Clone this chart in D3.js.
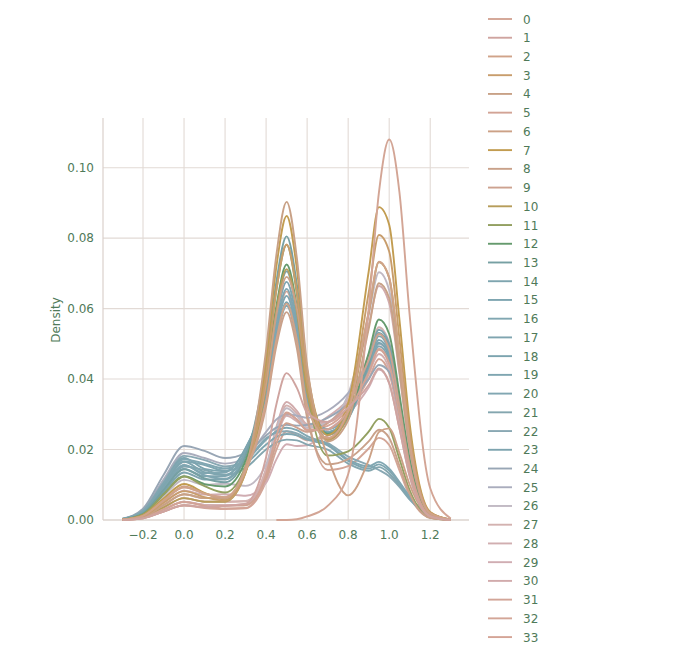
<!DOCTYPE html>
<html>
<head>
<meta charset="utf-8">
<script src="https://cdn.jsdelivr.net/npm/d3@7"></script>
<style>
  body { margin: 0; background: #fff; }
  text { font-family: "DejaVu Sans", sans-serif; fill: #4f7a59; }
</style>
</head>
<body>
<div id="grafico"></div>
<script>
// x positions where each density curve was read
var xs = [-0.3, -0.2, -0.1, 0.0, 0.1, 0.2, 0.3, 0.4, 0.45, 0.5, 0.55, 0.6, 0.7, 0.8, 0.9, 0.95, 1.0, 1.05, 1.1, 1.2, 1.3];

// hue levels
var hueLevels = ["0","1","2","3","4","5","6","7","8","9","10","11","12","13","14","15","16",
  "17","18","19","20","21","22","23","24","25","26","27","28","29","30","31","32","33"];

// density per hue level, one row per level (values at xs)
var densities = [
  [null, null, null, null, null, null, null, null, 0, 0, 0.0002, 0.001, 0.004, 0.013, 0.060, 0.093, 0.108, 0.093, 0.058, 0.009, 0.0004],
  [0, 0.0005, 0.0024, 0.0042, 0.0037, 0.0040, 0.0046, 0.0178, 0.0328, 0.0417, 0.0375, 0.0305, 0.0278, 0.0319, 0.0383, 0.0430, 0.0389, 0.0260, 0.0124, 0.0010, 0],
  [0.0001, 0.0012, 0.0055, 0.0093, 0.0075, 0.0065, 0.0141, 0.0334, 0.0511, 0.0614, 0.0512, 0.0325, 0.0233, 0.0309, 0.0591, 0.0733, 0.0688, 0.0465, 0.0223, 0.0019, 0.0001],
  [0.0001, 0.0011, 0.0049, 0.0082, 0.0065, 0.0055, 0.0136, 0.0415, 0.0652, 0.0782, 0.0648, 0.0391, 0.0230, 0.0311, 0.0645, 0.0809, 0.0762, 0.0514, 0.0248, 0.0021, 0.0001],
  [0.0001, 0.0009, 0.0042, 0.0073, 0.0062, 0.0062, 0.0148, 0.0483, 0.0752, 0.0903, 0.0743, 0.0438, 0.0223, 0.0283, 0.0542, 0.0672, 0.0630, 0.0424, 0.0205, 0.0017, 0.0001],
  [0.0001, 0.0007, 0.0030, 0.0051, 0.0040, 0.0033, 0.0034, 0.0130, 0.0239, 0.0303, 0.0285, 0.0255, 0.0258, 0.0309, 0.0419, 0.0486, 0.0444, 0.0298, 0.0143, 0.0012, 0],
  [0.0001, 0.0012, 0.0055, 0.0095, 0.0075, 0.0060, 0.0150, 0.0388, 0.0582, 0.0690, 0.0600, 0.0400, 0.0180, 0.0070, 0.0170, 0.0250, 0.0260, 0.0190, 0.0100, 0.0010, 0],
  [0.0001, 0.0014, 0.0061, 0.0102, 0.0077, 0.0058, 0.0137, 0.0456, 0.0719, 0.0863, 0.0713, 0.0427, 0.0241, 0.0331, 0.0705, 0.0888, 0.0838, 0.0568, 0.0273, 0.0023, 0.0001],
  [0.0001, 0.0009, 0.0042, 0.0073, 0.0062, 0.0062, 0.0139, 0.0323, 0.0494, 0.0590, 0.0487, 0.0290, 0.0158, 0.0173, 0.0223, 0.0256, 0.0233, 0.0154, 0.0074, 0.0006, 0],
  [0, 0.0005, 0.0024, 0.0042, 0.0037, 0.0040, 0.0042, 0.0121, 0.0216, 0.0275, 0.0262, 0.0250, 0.0275, 0.0333, 0.0454, 0.0528, 0.0483, 0.0324, 0.0155, 0.0013, 0],
  [0.0001, 0.0008, 0.0036, 0.0062, 0.0052, 0.0052, 0.0134, 0.0380, 0.0594, 0.0712, 0.0592, 0.0363, 0.0227, 0.0300, 0.0588, 0.0732, 0.0687, 0.0462, 0.0223, 0.0019, 0.0001],
  [0.0001, 0.0016, 0.0073, 0.0123, 0.0096, 0.0078, 0.0154, 0.0424, 0.0653, 0.0781, 0.0641, 0.0375, 0.0183, 0.0195, 0.0251, 0.0287, 0.0262, 0.0173, 0.0084, 0.0007, 0],
  [0.0001, 0.0016, 0.0073, 0.0124, 0.0102, 0.0095, 0.0169, 0.0403, 0.0607, 0.0725, 0.0604, 0.0373, 0.0244, 0.0295, 0.0473, 0.0569, 0.0528, 0.0356, 0.0171, 0.0014, 0.0001],
  [0.0002, 0.0019, 0.0085, 0.0144, 0.0118, 0.0107, 0.0182, 0.0449, 0.0676, 0.0805, 0.0668, 0.0406, 0.0246, 0.0290, 0.0444, 0.0530, 0.0490, 0.0330, 0.0158, 0.0013, 0.0001],
  [0.0002, 0.0022, 0.0097, 0.0165, 0.0136, 0.0128, 0.0196, 0.0389, 0.0570, 0.0676, 0.0565, 0.0356, 0.0250, 0.0297, 0.0441, 0.0522, 0.0481, 0.0324, 0.0156, 0.0013, 0.0001],
  [0.0002, 0.0020, 0.0091, 0.0155, 0.0127, 0.0117, 0.0187, 0.0375, 0.0552, 0.0656, 0.0548, 0.0344, 0.0242, 0.0287, 0.0430, 0.0511, 0.0472, 0.0318, 0.0152, 0.0013, 0],
  [0.0003, 0.0025, 0.0102, 0.0172, 0.0160, 0.0146, 0.0168, 0.0228, 0.0252, 0.0262, 0.0255, 0.0238, 0.0215, 0.0172, 0.0152, 0.0165, 0.0146, 0.0108, 0.0066, 0.0014, 0.0001],
  [0.0002, 0.0019, 0.0085, 0.0145, 0.0124, 0.0125, 0.0195, 0.0369, 0.0537, 0.0636, 0.0533, 0.0340, 0.0249, 0.0298, 0.0448, 0.0531, 0.0490, 0.0330, 0.0158, 0.0013, 0.0001],
  [0.0002, 0.0023, 0.0103, 0.0176, 0.0145, 0.0138, 0.0204, 0.0363, 0.0522, 0.0618, 0.0518, 0.0335, 0.0258, 0.0303, 0.0430, 0.0503, 0.0463, 0.0311, 0.0149, 0.0012, 0],
  [0.0003, 0.0024, 0.0098, 0.0166, 0.0156, 0.0140, 0.0160, 0.0214, 0.0236, 0.0244, 0.0240, 0.0228, 0.0212, 0.0168, 0.0146, 0.0158, 0.0140, 0.0104, 0.0064, 0.0014, 0.0001],
  [0.0002, 0.0020, 0.0091, 0.0156, 0.0133, 0.0135, 0.0204, 0.0356, 0.0514, 0.0608, 0.0510, 0.0330, 0.0258, 0.0301, 0.0423, 0.0493, 0.0454, 0.0305, 0.0146, 0.0012, 0],
  [0.0002, 0.0022, 0.0090, 0.0152, 0.0142, 0.0128, 0.0148, 0.0200, 0.0220, 0.0228, 0.0226, 0.0214, 0.0200, 0.0160, 0.0140, 0.0150, 0.0132, 0.0098, 0.0060, 0.0013, 0.0001],
  [0.0003, 0.0027, 0.0108, 0.0182, 0.0170, 0.0152, 0.0170, 0.0232, 0.0248, 0.0252, 0.0246, 0.0232, 0.0218, 0.0180, 0.0156, 0.0142, 0.0124, 0.0094, 0.0058, 0.0012, 0.0001],
  [0.0001, 0.0018, 0.0079, 0.0135, 0.0115, 0.0115, 0.0187, 0.0401, 0.0594, 0.0706, 0.0588, 0.0366, 0.0243, 0.0291, 0.0451, 0.0540, 0.0500, 0.0337, 0.0161, 0.0014, 0.0001],
  [0.0004, 0.0032, 0.0128, 0.0210, 0.0196, 0.0176, 0.0190, 0.0240, 0.0262, 0.0270, 0.0268, 0.0270, 0.0290, 0.0330, 0.0400, 0.0440, 0.0420, 0.0300, 0.0160, 0.0020, 0.0001],
  [0.0003, 0.0028, 0.0115, 0.0190, 0.0176, 0.0160, 0.0178, 0.0250, 0.0285, 0.0300, 0.0296, 0.0290, 0.0310, 0.0360, 0.0450, 0.0500, 0.0470, 0.0330, 0.0170, 0.0020, 0.0001],
  [0.0001, 0.0015, 0.0067, 0.0114, 0.0100, 0.0103, 0.0097, 0.0157, 0.0257, 0.0317, 0.0295, 0.0262, 0.0277, 0.0357, 0.0582, 0.0703, 0.0652, 0.0440, 0.0211, 0.0018, 0.0001],
  [0.0001, 0.0008, 0.0036, 0.0062, 0.0052, 0.0052, 0.0054, 0.0144, 0.0258, 0.0325, 0.0303, 0.0268, 0.0277, 0.0335, 0.0468, 0.0547, 0.0502, 0.0337, 0.0161, 0.0014, 0.0001],
  [0.0001, 0.0007, 0.0030, 0.0052, 0.0043, 0.0042, 0.0044, 0.0129, 0.0233, 0.0296, 0.0280, 0.0262, 0.0293, 0.0341, 0.0417, 0.0471, 0.0428, 0.0287, 0.0137, 0.0011, 0],
  [0.0001, 0.0011, 0.0049, 0.0083, 0.0072, 0.0073, 0.0069, 0.0106, 0.0172, 0.0215, 0.0210, 0.0212, 0.0255, 0.0301, 0.0376, 0.0427, 0.0388, 0.0260, 0.0124, 0.0010, 0],
  [0.0001, 0.0007, 0.0030, 0.0052, 0.0043, 0.0042, 0.0045, 0.0146, 0.0264, 0.0335, 0.0310, 0.0272, 0.0278, 0.0351, 0.0554, 0.0664, 0.0615, 0.0414, 0.0198, 0.0017, 0.0001],
  [0, 0.0005, 0.0024, 0.0041, 0.0034, 0.0031, 0.0033, 0.0110, 0.0199, 0.0252, 0.0240, 0.0226, 0.0239, 0.0291, 0.0413, 0.0483, 0.0443, 0.0298, 0.0143, 0.0012, 0],
  [0.0001, 0.0012, 0.0055, 0.0093, 0.0075, 0.0065, 0.0142, 0.0354, 0.0544, 0.0649, 0.0532, 0.0309, 0.0142, 0.0153, 0.0203, 0.0233, 0.0213, 0.0141, 0.0068, 0.0006, 0],
  [0.0001, 0.0008, 0.0036, 0.0062, 0.0052, 0.0052, 0.0053, 0.0136, 0.0242, 0.0305, 0.0285, 0.0256, 0.0267, 0.0314, 0.0400, 0.0457, 0.0417, 0.0279, 0.0133, 0.0011, 0]
];

var palette = ["#d3a595","#cfa4a0","#d0a389","#c89d6c","#c8a186","#d2a395","#cca186","#c29c50","#c9a18a","#cda290",
  "#b69d5a","#93a061","#659a6d","#76a0a3","#7ea5af","#7fa6b1","#81a7b2","#7fa5b0","#7ca4af","#7fa6b1",
  "#81a7b2","#84a6af","#89a8b3","#7ea4af","#98a6b5","#aaadbd","#c1b9c3","#d3b2b0","#d1aeb0","#d0adb2",
  "#d1abac","#d2a598","#d3a697","#d4a496"];

var xTicks = [-0.2, 0.0, 0.2, 0.4, 0.6, 0.8, 1.0, 1.2];
var yTicks = [0.00, 0.02, 0.04, 0.06, 0.08, 0.10];

var svg = d3.select("#grafico")
  .append("svg")
  .attr("width", 677)
  .attr("height", 667);

var x = d3.scaleLinear().domain([-0.395, 1.389]).range([103, 469]);
var y = d3.scaleLinear().domain([0, 0.1141]).range([520, 118]);

// grid
svg.selectAll("line.gx")
  .data(xTicks)
  .enter()
  .append("line")
  .attr("x1", function(d) { return x(d); })
  .attr("x2", function(d) { return x(d); })
  .attr("y1", 118)
  .attr("y2", 520)
  .style("stroke", "#e2dad5")
  .style("stroke-width", 1.1);

svg.selectAll("line.gy")
  .data(yTicks)
  .enter()
  .append("line")
  .attr("x1", 103)
  .attr("x2", 469)
  .attr("y1", function(d) { return y(d); })
  .attr("y2", function(d) { return y(d); })
  .style("stroke", "#e2dad5")
  .style("stroke-width", 1.1);

// spines (left and bottom only)
svg.append("line").attr("x1", 103).attr("x2", 103).attr("y1", 118).attr("y2", 520)
  .style("stroke", "#dad1cc").style("stroke-width", 1.2);
svg.append("line").attr("x1", 103).attr("x2", 469).attr("y1", 520).attr("y2", 520)
  .style("stroke", "#dad1cc").style("stroke-width", 1.2);

// tick labels
svg.selectAll("text.xt")
  .data(xTicks)
  .enter()
  .append("text")
  .attr("x", function(d) { return x(d); })
  .attr("y", 539)
  .attr("text-anchor", "middle")
  .style("font-size", "12px")
  .text(function(d) { return d3.format(".1f")(d).replace("-", "\u2212"); });

svg.selectAll("text.yt")
  .data(yTicks)
  .enter()
  .append("text")
  .attr("x", 94)
  .attr("y", function(d) { return y(d) + 4; })
  .attr("text-anchor", "end")
  .style("font-size", "12px")
  .text(function(d) { return d3.format(".2f")(d); });

svg.append("text")
  .attr("transform", "translate(60,320) rotate(-90)")
  .attr("text-anchor", "middle")
  .style("font-size", "12px")
  .text("Density");

// curves: drawn last level first so level 0 ends on top
var line = d3.line()
  .defined(function(d) { return d[1] != null; })
  .x(function(d) { return x(d[0]); })
  .y(function(d) { return y(d[1]); })
  .curve(d3.curveMonotoneX);

var order = d3.range(densities.length).reverse();

svg.selectAll("path.kde")
  .data(order)
  .enter()
  .append("path")
  .attr("d", function(i) { return line(xs.map(function(v, k) { return [v, densities[i][k]]; })); })
  .style("fill", "none")
  .style("stroke", function(i) { return palette[i]; })
  .style("stroke-width", 1.9);

// legend
var leg = svg.selectAll("g.leg")
  .data(hueLevels)
  .enter()
  .append("g")
  .attr("transform", function(d, i) { return "translate(0," + (19 + i * 18.73) + ")"; });

leg.append("line")
  .attr("x1", 488)
  .attr("x2", 512)
  .style("stroke", function(d, i) { return palette[i]; })
  .style("stroke-width", 1.9);

leg.append("text")
  .attr("x", 523)
  .attr("y", 4.5)
  .style("font-size", "12px")
  .text(function(d) { return d; });
</script>
</body>
</html>
